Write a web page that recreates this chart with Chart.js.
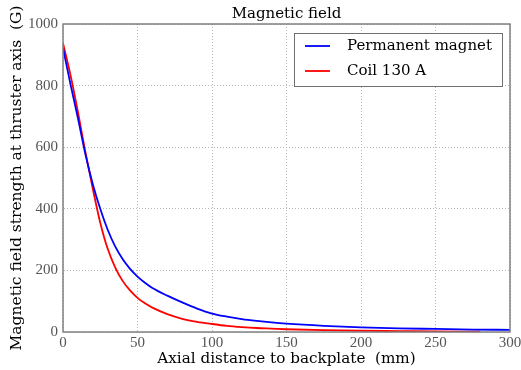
<!DOCTYPE html>
<html>
<head>
<meta charset="utf-8">
<script src="https://cdn.jsdelivr.net/npm/chart.js@4"></script>
<style>
  html, body { margin: 0; padding: 0; background: #fff; }
  #wrap { width: 521px; height: 370px; }
</style>
</head>
<body>
<div id="wrap"><canvas id="myChart" width="521" height="370"></canvas></div>
<script>

// values
var magnet_x = [0, 5, 10, 15, 20, 25, 30, 35, 40, 45, 50, 55, 60, 70, 80, 90, 100, 110, 120, 130, 140, 150, 175, 200, 225, 250, 275, 300];
var magnet_y = [922, 805, 695, 578, 480, 400, 332, 278, 237, 205, 180, 160, 143, 118, 96, 76, 60, 50, 42, 36, 31, 27, 20, 15, 12, 10, 8, 7];

var coil_x = [0, 5, 10, 15, 20, 25, 30, 35, 40, 45, 50, 55, 60, 70, 80, 90, 100, 110, 120, 130, 140, 150, 175, 200, 225, 250, 280];
var coil_y = [938, 835, 715, 585, 465, 355, 270, 210, 166, 135, 111, 93, 79, 58, 43, 33, 26, 20, 16, 13, 11, 9, 6, 4, 3, 2, 1];

var series_names = ['Permanent magnet', 'Coil 130 A'];
var x_ticks = [0, 50, 100, 150, 200, 250, 300];
var y_ticks = [0, 200, 400, 600, 800, 1000];

var serif = "'DejaVu Serif', 'Liberation Serif', serif";
var tick_serif = "'Liberation Serif', serif";

function to_points(xs, ys){
    var pts = [];
    for (let i = 0; i < xs.length; i++) {
        pts.push({x: xs[i], y: ys[i]});
    }
    return pts;
}

//------------------------------------------------------------------

// box round the plot, title and the legend inside the plot
const frame_plugin = {
    id: 'frame',
    afterDraw(chart){
        const c = chart.ctx;
        const a = chart.chartArea;
        c.save();
        c.strokeStyle = '#808080';
        c.lineWidth = 1.5;
        c.strokeRect(a.left, a.top, a.right - a.left, a.bottom - a.top);

        c.fillStyle = '#000';
        c.font = '15px ' + serif;
        c.textAlign = 'center';
        c.textBaseline = 'alphabetic';
        c.fillText('Magnetic field', (a.left + a.right) / 2, a.top - 6);

        // legend
        const bw = 208, bh = 53;
        const bx = a.right - 8 - bw, by = a.top + 9;
        c.fillStyle = '#fff';
        c.fillRect(bx, by, bw, bh);
        c.strokeStyle = '#707070';
        c.lineWidth = 1;
        c.strokeRect(bx + 0.5, by + 0.5, bw, bh);
        c.font = '15px ' + serif;
        c.textAlign = 'left';
        c.textBaseline = 'middle';
        chart.data.datasets.forEach(function(ds, i){
            const ly = by + 13 + i * 25;
            c.strokeStyle = ds.borderColor;
            c.lineWidth = 1.8;
            c.beginPath();
            c.moveTo(bx + 11, ly);
            c.lineTo(bx + 36, ly);
            c.stroke();
            c.fillStyle = '#000';
            c.fillText(ds.label, bx + 53, ly);
        });
        c.restore();
    }
};

const ctx = document.getElementById('myChart');

const mag_chart = new Chart(ctx, {
    type: 'line',
    data: {
        datasets: [{
            label: series_names[0],
            data: to_points(magnet_x, magnet_y),
            borderColor: '#0000ff',
            borderWidth: 1.8,
            pointRadius: 0,
            cubicInterpolationMode: 'monotone',
            fill: false
        }, {
            label: series_names[1],
            data: to_points(coil_x, coil_y),
            borderColor: '#ff0000',
            borderWidth: 1.8,
            pointRadius: 0,
            cubicInterpolationMode: 'monotone',
            fill: false
        }]
    },
    options: {
        responsive: false,
        animation: false,
        layout: { padding: { top: 24, right: 11, left: 0, bottom: 0 } },
        plugins: {
            legend: { display: false },
            title: { display: false },
            tooltip: { enabled: false }
        },
        scales: {
            x: {
                type: 'linear',
                min: 0,
                max: 300,
                afterBuildTicks: function(s){ s.ticks = x_ticks.map(function(v){ return {value: v}; }); },
                afterFit: function(s){ s.height = 38; s.paddingLeft = 0; s.paddingRight = 0; },
                grid: { color: '#b8b8b8', drawTicks: false },
                border: { display: true, color: 'rgba(0,0,0,0)', dash: [1, 2] },
                ticks: {
                    color: '#555', padding: 2, maxRotation: 0,
                    font: { family: tick_serif, size: 15 },
                    callback: function(v){ return String(v); }
                },
                title: {
                    display: true,
                    text: 'Axial distance to backplate  (mm)',
                    color: '#000',
                    font: { family: serif, size: 15.2 },
                    padding: { top: 0, bottom: 2 }
                }
            },
            y: {
                min: 0,
                max: 1000,
                afterBuildTicks: function(s){ s.ticks = y_ticks.map(function(v){ return {value: v}; }); },
                afterFit: function(s){ s.width = 63; },
                grid: { color: '#b8b8b8', drawTicks: false },
                border: { display: true, color: 'rgba(0,0,0,0)', dash: [1, 2] },
                ticks: {
                    color: '#555', padding: 5,
                    font: { family: tick_serif, size: 15 },
                    callback: function(v){ return String(v); }
                },
                title: {
                    display: true,
                    text: 'Magnetic field strength at thruster axis  (G)',
                    color: '#000',
                    font: { family: serif, size: 15.5 },
                    padding: { top: 8, bottom: 0 }
                }
            }
        }
    },
    plugins: [frame_plugin]
});

</script>
</body>
</html>
